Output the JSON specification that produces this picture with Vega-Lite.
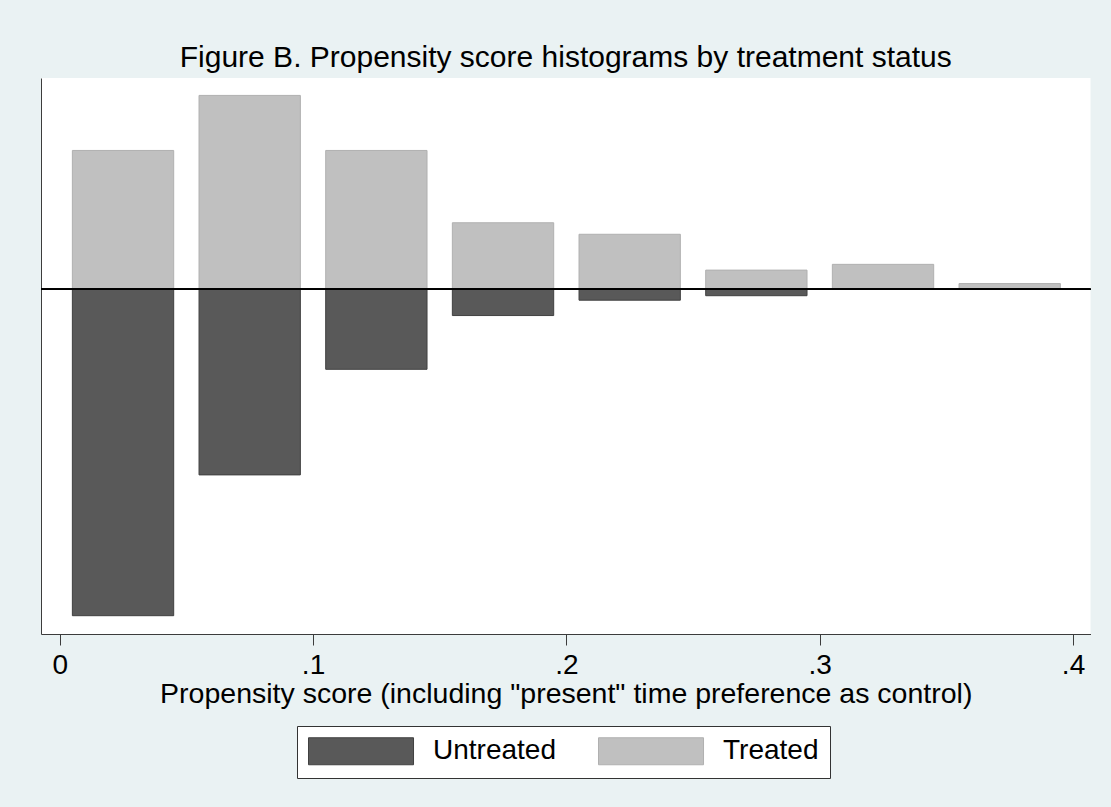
{
  "$schema": "https://vega.github.io/schema/vega-lite/v6.json",
  "autosize": {"type": "none"},
  "width": 1049.5,
  "height": 556,
  "padding": {"left": 41, "top": 78, "right": 20, "bottom": 173},
  "background": "#eaf2f3",
  "title": {
    "text": "Figure B. Propensity score histograms by treatment status",
    "font": "Liberation Sans",
    "fontSize": 30,
    "fontWeight": "normal",
    "color": "#000000",
    "anchor": "middle",
    "baseline": "alphabetic",
    "offset": 12,
    "dy": 31
  },
  "config": {
    "view": {"fill": "white", "stroke": null},
    "font": "Liberation Sans"
  },
  "data": {
    "values": [
      {"bin_start": 0.005, "bin_end": 0.045, "group": "Treated", "fraction": 0.217},
      {"bin_start": 0.055, "bin_end": 0.095, "group": "Treated", "fraction": 0.303},
      {"bin_start": 0.105, "bin_end": 0.145, "group": "Treated", "fraction": 0.217},
      {"bin_start": 0.155, "bin_end": 0.195, "group": "Treated", "fraction": 0.104},
      {"bin_start": 0.205, "bin_end": 0.245, "group": "Treated", "fraction": 0.086},
      {"bin_start": 0.255, "bin_end": 0.295, "group": "Treated", "fraction": 0.030},
      {"bin_start": 0.305, "bin_end": 0.345, "group": "Treated", "fraction": 0.039},
      {"bin_start": 0.355, "bin_end": 0.395, "group": "Treated", "fraction": 0.009},
      {"bin_start": 0.005, "bin_end": 0.045, "group": "Untreated", "fraction": -0.510},
      {"bin_start": 0.055, "bin_end": 0.095, "group": "Untreated", "fraction": -0.290},
      {"bin_start": 0.105, "bin_end": 0.145, "group": "Untreated", "fraction": -0.125},
      {"bin_start": 0.155, "bin_end": 0.195, "group": "Untreated", "fraction": -0.041},
      {"bin_start": 0.205, "bin_end": 0.245, "group": "Untreated", "fraction": -0.017},
      {"bin_start": 0.255, "bin_end": 0.295, "group": "Untreated", "fraction": -0.010}
    ]
  },
  "layer": [
    {
      "mark": {"type": "bar", "strokeWidth": 1},
      "encoding": {
        "x": {
          "field": "bin_start",
          "type": "quantitative",
          "scale": {"domain": [-0.00738, 0.4069], "nice": false, "zero": false},
          "axis": {
            "title": "Propensity score (including \"present\" time preference as control)",
            "titleFont": "Liberation Sans",
            "titleFontSize": 28.5,
            "titleFontWeight": "normal",
            "titleColor": "#000000",
            "titlePadding": 0,
            "values": [0, 0.1, 0.2, 0.3, 0.4],
            "labelExpr": "datum.value === 0 ? '0' : replace(format(datum.value, '.1f'), '0.', '.')",
            "labelFont": "Liberation Sans",
            "labelFontSize": 28,
            "labelColor": "#000000",
            "labelPadding": 6,
            "labelFlush": false,
            "labelOverlap": false,
            "tickSize": 11,
            "tickColor": "#3c3c3c",
            "domainColor": "#3c3c3c",
            "grid": false
          }
        },
        "x2": {"field": "bin_end"},
        "y": {
          "field": "fraction",
          "type": "quantitative",
          "scale": {"domain": [-0.5386, 0.3302], "nice": false, "zero": false},
          "axis": {
            "title": null,
            "labels": false,
            "ticks": false,
            "grid": false,
            "domainColor": "#3c3c3c"
          }
        },
        "y2": {"datum": 0},
        "color": {
          "field": "group",
          "type": "nominal",
          "scale": {"domain": ["Untreated", "Treated"], "range": ["#595959", "#c0c0c0"]},
          "legend": {
            "title": null,
            "orient": "none",
            "legendX": 256,
            "legendY": 648,
            "direction": "horizontal",
            "columns": 2,
            "fillColor": "white",
            "strokeColor": "#333333",
            "padding": 11,
            "symbolType": "M-1,-1H6.78V1H-1Z",
            "symbolSize": 729,
            "symbolStrokeWidth": 1,
            "labelOffset": 97,
            "columnPadding": 40,
            "labelFont": "Liberation Sans",
            "labelFontSize": 28,
            "labelColor": "#000000"
          }
        },
        "stroke": {
          "field": "group",
          "type": "nominal",
          "scale": {"domain": ["Untreated", "Treated"], "range": ["#404040", "#b0b0b0"]},
          "legend": {
            "title": null,
            "orient": "none",
            "legendX": 256,
            "legendY": 648,
            "direction": "horizontal",
            "columns": 2,
            "fillColor": "white",
            "strokeColor": "#333333",
            "padding": 11,
            "symbolType": "M-1,-1H6.78V1H-1Z",
            "symbolSize": 729,
            "symbolStrokeWidth": 1,
            "labelOffset": 97,
            "columnPadding": 40,
            "labelFont": "Liberation Sans",
            "labelFontSize": 28,
            "labelColor": "#000000"
          }
        }
      }
    },
    {
      "mark": {"type": "rule", "color": "#000000", "strokeWidth": 1.3},
      "encoding": {"y": {"datum": 0, "type": "quantitative"}}
    }
  ]
}
